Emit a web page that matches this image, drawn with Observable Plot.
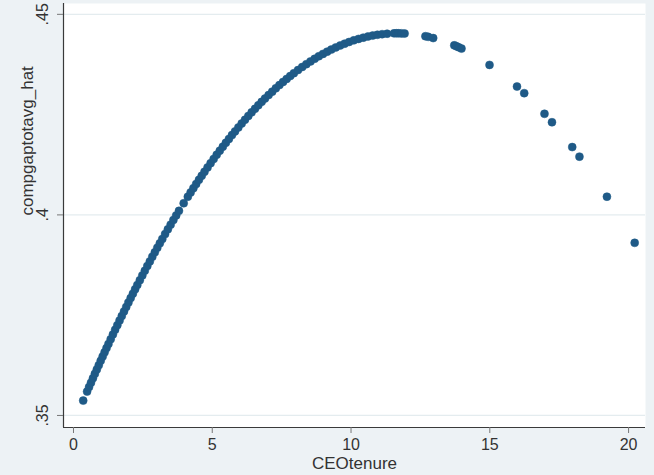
<!DOCTYPE html>
<html>
<head>
<meta charset="utf-8">
<script src="https://cdn.jsdelivr.net/npm/d3@7"></script>
<script src="https://cdn.jsdelivr.net/npm/@observablehq/plot@0.6"></script>
<style>
  html, body { margin: 0; padding: 0; background: #edf2f5; }
</style>
</head>
<body>
<div id="chart"></div>
<script>
// CEO tenure (x) and fitted compgaptotavg_hat (y)
const tenure = [
  0.35, 0.49, 0.56, 0.63, 0.70, 0.77, 0.84, 0.91, 0.98, 1.05, 1.12, 1.19, 1.26, 1.34, 1.42,
  1.50, 1.58, 1.66, 1.74, 1.82, 1.90, 1.98, 2.06, 2.14, 2.22, 2.30, 2.39, 2.48, 2.57, 2.66,
  2.75, 2.84, 2.93, 3.02, 3.11, 3.20, 3.30, 3.40, 3.50, 3.60, 3.70, 3.80, 3.97,
  4.12, 4.22, 4.32, 4.42, 4.52, 4.62, 4.72, 4.83, 4.94, 5.05, 5.16, 5.27, 5.38, 5.49, 5.60,
  5.71, 5.82, 5.94, 6.06, 6.18, 6.30, 6.42, 6.54, 6.66, 6.78, 6.90, 7.03, 7.16, 7.29, 7.42,
  7.55, 7.68, 7.81, 7.94,
  8.09, 8.24, 8.39, 8.54, 8.69, 8.84, 8.99, 9.14, 9.29, 9.45, 9.61, 9.77, 9.93, 10.10, 10.27,
  10.44, 10.61, 10.78, 10.95, 11.12, 11.30, 11.55, 11.64, 11.72, 11.82, 11.93,
  12.68, 12.78, 12.96, 13.72, 13.80, 13.88, 13.98, 14.99, 15.98, 16.24, 16.97, 17.24,
  17.97, 18.23, 19.22, 20.22
];
const compgapHat = [
  0.35370, 0.35595, 0.35707, 0.35817, 0.35927, 0.36037, 0.36146, 0.36254, 0.36361, 0.36467, 0.36573, 0.36679, 0.36783, 0.36902, 0.37019,
  0.37136, 0.37252, 0.37367, 0.37481, 0.37594, 0.37706, 0.37817, 0.37928, 0.38037, 0.38146, 0.38253, 0.38373, 0.38492, 0.38609, 0.38726,
  0.38841, 0.38955, 0.39068, 0.39180, 0.39291, 0.39400, 0.39521, 0.39640, 0.39757, 0.39873, 0.39988, 0.40101, 0.40290,
  0.40454, 0.40561, 0.40667, 0.40771, 0.40874, 0.40975, 0.41075, 0.41184, 0.41290, 0.41395, 0.41499, 0.41600, 0.41700, 0.41798, 0.41894,
  0.41989, 0.42082, 0.42181, 0.42278, 0.42373, 0.42466, 0.42557, 0.42646, 0.42733, 0.42818, 0.42901, 0.42988, 0.43073, 0.43156, 0.43236,
  0.43314, 0.43389, 0.43462, 0.43533,
  0.43611, 0.43686, 0.43758, 0.43827, 0.43892, 0.43955, 0.44014, 0.44070, 0.44122, 0.44175, 0.44224, 0.44269, 0.44311, 0.44351, 0.44387,
  0.44419, 0.44447, 0.44470, 0.44490, 0.44505, 0.44517, 0.44526, 0.44527, 0.44527, 0.44525, 0.44522,
  0.44454, 0.44439, 0.44408, 0.44227, 0.44203, 0.44178, 0.44146, 0.43739, 0.43200, 0.43035, 0.42520, 0.42310,
  0.41691, 0.41452, 0.40454, 0.39303
];
const xTicks = [0, 5, 10, 15, 20];
const yTicks = [0.35, 0.40, 0.45];
const yTickLabels = [".35", ".4", ".45"];
const xDomain = [-0.36, 20.61];
const yDomain = [0.347, 0.4527];
const xTitle = "CEOtenure";
const yTitle = "compgaptotavg_hat";

const data = tenure.map((t, i) => ({tenure: t, hat: compgapHat[i]}));
const yLabelData = yTicks.map((v, i) => ({v, label: yTickLabels[i]}));

const chart = Plot.plot({
  width: 654,
  height: 475,
  marginLeft: 63,
  marginRight: 9,
  marginTop: 3,
  marginBottom: 48,
  style: {background: "#edf2f5", fontFamily: "'Liberation Sans', Arial, sans-serif", color: "#333"},
  x: {domain: xDomain},
  y: {domain: yDomain},
  marks: [
    Plot.frame({fill: "white", stroke: "none"}),
    Plot.gridY(yTicks, {stroke: "#e4ecef", strokeOpacity: 1, strokeWidth: 1.2}),
    Plot.ruleX([xDomain[0]], {stroke: "#3a3a3a", strokeWidth: 1.2}),
    Plot.ruleY([yDomain[0]], {stroke: "#3a3a3a", strokeWidth: 1.2}),
    Plot.axisX(xTicks, {tickSize: 6, tickPadding: 5, fontSize: 16, label: null, stroke: "#777", fill: "#333"}),
    Plot.axisY(yTicks, {tickSize: 6, tickFormat: () => "", label: null, stroke: "#777"}),
    Plot.text(yLabelData, {x: xDomain[0], y: "v", text: "label", rotate: -90, dx: -21, fontSize: 16, fill: "#333", textAnchor: "middle", lineAnchor: "middle"}),
    Plot.text([xTitle], {frameAnchor: "bottom", dy: 36, fontSize: 17, fill: "#333", lineAnchor: "middle"}),
    Plot.text([yTitle], {frameAnchor: "left", dx: -36, rotate: -90, fontSize: 17, fill: "#333", lineAnchor: "middle"}),
    Plot.dot(data, {x: "tenure", y: "hat", r: 4, fill: "#1f5a87", stroke: "#1f5a87", strokeWidth: 0.5})
  ]
});
document.getElementById("chart").appendChild(chart);
</script>
</body>
</html>
